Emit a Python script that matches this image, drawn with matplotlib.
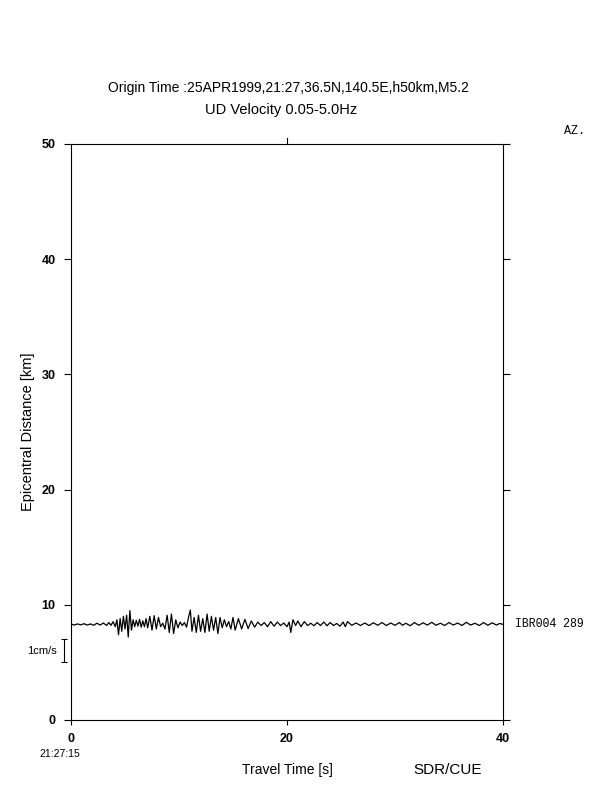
import numpy as np
import matplotlib
matplotlib.use('Agg')
import matplotlib.pyplot as plt

# record section: one station, velocity trace (turning points)
station = 'IBR004'
azimuth = 289
distance = 8.3          # km
km_per_cms = 2.0        # 1 cm/s on the trace = 2 km on the distance axis

t_pts = [0.0, 0.3, 0.6, 0.9, 1.2, 1.5, 1.8, 2.1, 2.4, 2.7, 3.0, 3.3, 3.5, 3.7, 3.9,
         4.1, 4.25, 4.4, 4.55, 4.7, 4.85, 5.0, 5.15, 5.3, 5.45, 5.6, 5.75, 5.9, 6.05,
         6.2, 6.35, 6.5, 6.65, 6.8, 6.95, 7.1, 7.3, 7.5, 7.7, 7.9, 8.1, 8.3, 8.5, 8.7,
         8.9, 9.1, 9.3, 9.5, 9.7, 9.9, 10.1, 10.3, 10.5, 10.7, 10.9, 11.05, 11.2, 11.4,
         11.6, 11.8, 12.0, 12.2, 12.4, 12.6, 12.8, 13.0, 13.2, 13.4, 13.6, 13.8, 14.0,
         14.2, 14.4, 14.6, 14.8, 15.0, 15.2, 15.5, 15.8, 16.1, 16.4, 16.7, 17.0, 17.3,
         17.6, 17.9, 18.2, 18.5, 18.8, 19.1, 19.4, 19.7, 20.0, 20.2, 20.35, 20.55, 20.8,
         21.0, 21.3, 21.6, 21.9, 22.2, 22.5, 22.8, 23.1, 23.4, 23.7, 24.0, 24.3, 24.6,
         24.9, 25.2, 25.4, 25.6, 26.0, 26.4, 26.8, 27.2, 27.6, 28.0, 28.4, 28.8, 29.2,
         29.6, 30.0, 30.4, 30.7, 31.0, 31.4, 31.8, 32.2, 32.6, 33.0, 33.4, 33.8, 34.2,
         34.6, 35.0, 35.4, 35.8, 36.2, 36.6, 37.0, 37.4, 37.8, 38.2, 38.6, 39.0, 39.4,
         39.7, 40.0]
v_pts = [0.02, -0.03, 0.02, -0.02, 0.03, -0.03, 0.02, -0.04, 0.05, -0.03, 0.06, -0.05, 0.08, -0.04, 0.12,
         -0.10, 0.20, -0.45, 0.25, -0.30, 0.35, -0.20, 0.40, -0.55, 0.60, -0.25, 0.20, -0.10, 0.18,
         -0.08, 0.22, -0.12, 0.15, -0.10, 0.25, -0.15, 0.35, -0.25, 0.38, -0.20, 0.30, -0.10, 0.05, -0.20,
         0.40, -0.35, 0.45, -0.40, 0.20, -0.15, 0.10, -0.05, 0.08, -0.12, 0.35, 0.62, -0.30, 0.30,
         -0.35, 0.40, -0.30, 0.25, -0.35, 0.45, -0.30, 0.35, -0.25, 0.30, -0.40, 0.30, -0.15,
         0.20, -0.10, 0.12, -0.20, 0.30, -0.25, 0.25, -0.20, 0.22, -0.18, 0.15, -0.12, 0.10,
         -0.05, 0.08, -0.10, 0.12, -0.08, 0.10, -0.05, 0.06, -0.10, 0.10, -0.35, 0.20, -0.05,
         0.15, -0.10, 0.12, -0.05, 0.05, -0.06, 0.08, -0.05, 0.10, -0.06, 0.08, -0.05, 0.04,
         -0.08, 0.10, -0.10, 0.12, -0.04, 0.06, -0.05, 0.06, -0.05, 0.07, -0.04, 0.08, -0.05,
         0.06, -0.04, 0.08, -0.04, 0.05, -0.06, 0.08, -0.04, 0.07, -0.03, 0.09, -0.04, 0.05,
         -0.05, 0.08, -0.03, 0.06, -0.05, 0.09, -0.03, 0.05, -0.05, 0.08, -0.04, 0.07, -0.03,
         0.04, 0.00]

x_ticks = [0, 20, 40]
y_ticks = [0, 10, 20, 30, 40, 50]

title1 = 'Origin Time :25APR1999,21:27,36.5N,140.5E,h50km,M5.2'
title2 = 'UD Velocity 0.05-5.0Hz'

plt.rcParams['font.family'] = ['Liberation Sans', 'DejaVu Sans']

fig = plt.figure(figsize=(6.12, 7.92), dpi=100)
ax = fig.add_axes([71/612, 1-720/792, 432/612, 576/792])

t = np.array(t_pts)
v = np.array(v_pts)
ax.plot(t, distance + v*km_per_cms, color='black', lw=0.9)

ax.set_xlim(0, 40)
ax.set_ylim(0, 50)
for s in ax.spines.values():
    s.set_linewidth(0.8)

ax.set_xticks(x_ticks)
ax.set_xticklabels([str(x) for x in x_ticks], fontweight='bold', fontsize=9)
ax.set_yticks(y_ticks)
ax.set_yticklabels([str(y) for y in y_ticks], fontweight='bold', fontsize=9)
ax.tick_params(axis='y', direction='out', length=5, width=0.8, left=True, right=True, pad=6)
ax.tick_params(axis='x', direction='out', length=3.5, width=0.8, bottom=True, pad=6)

# single tick at the top middle
ax.plot([20, 20], [50, 50.55], color='black', lw=0.8, clip_on=False)

ax.set_xlabel('Travel Time [s]', fontsize=10, labelpad=13)
ax.set_ylabel('Epicentral Distance [km]', fontsize=10.5, labelpad=5)

fig.text(288/612, 1-88/792, title1, ha='center', va='center', fontsize=10)
fig.text(281/612, 1-110/792, title2, ha='center', va='center', fontsize=10.5)
fig.text(574/612, 1-131/792, 'AZ.', ha='center', va='center', fontsize=8.5,
         family='Liberation Mono')
fig.text(60/612, 1-754/792, '21:27:15', ha='center', va='center', fontsize=7.5)
fig.text(448/612, 1-770/792, 'SDR/CUE', ha='center', va='center', fontsize=11)

# station label on the right
ax.text(41.1, distance, f'{station} {azimuth}', ha='left', va='center', fontsize=8.3,
        family='Liberation Mono', clip_on=False)

# amplitude scale bar, 1 cm/s
bar_x = -0.65
bar_c = 6.0
ax.errorbar([bar_x], [bar_c], yerr=[km_per_cms/2], color='black', lw=0.8,
            capsize=2.5, capthick=0.8, clip_on=False)
ax.text(-1.3, bar_c, '1cm/s', ha='right', va='center', fontsize=8)

fig.savefig('out.png', dpi=100)
